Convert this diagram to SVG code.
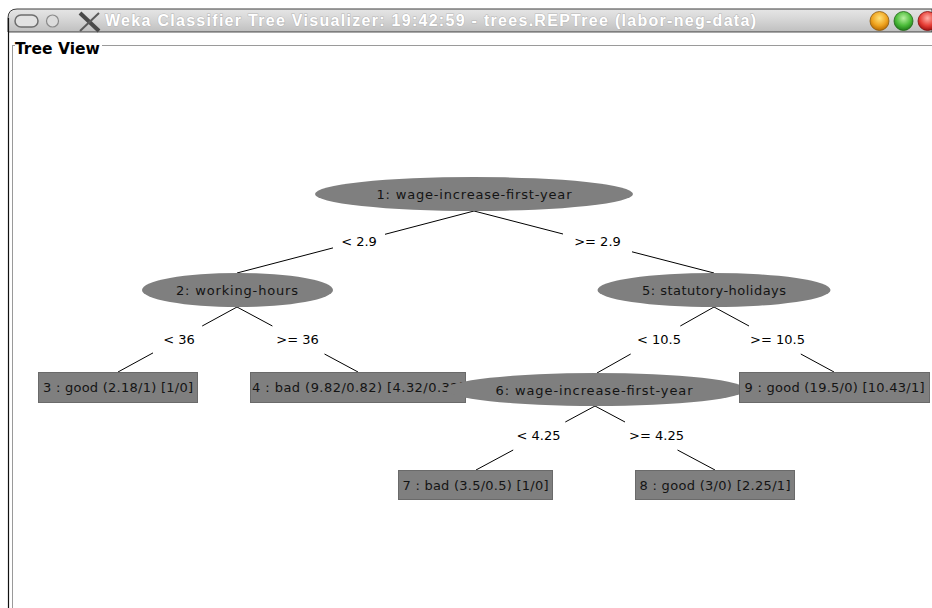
<svg xmlns="http://www.w3.org/2000/svg" width="932" height="608" viewBox="0 0 932 608">
<defs>
<linearGradient id="tbar" x1="0" y1="0" x2="0" y2="1">
<stop offset="0" stop-color="#e6e6e6"/>
<stop offset="0.5" stop-color="#d4d4d4"/>
<stop offset="1" stop-color="#bfbfbf"/>
</linearGradient>
<radialGradient id="gOr" cx="0.5" cy="0.35" r="0.65">
<stop offset="0" stop-color="#ffe27a"/>
<stop offset="0.6" stop-color="#f0a420"/>
<stop offset="1" stop-color="#b86a00"/>
</radialGradient>
<radialGradient id="gGr" cx="0.5" cy="0.35" r="0.65">
<stop offset="0" stop-color="#b8f0a0"/>
<stop offset="0.6" stop-color="#4cbc3a"/>
<stop offset="1" stop-color="#1f7a18"/>
</radialGradient>
<radialGradient id="gRd" cx="0.5" cy="0.35" r="0.65">
<stop offset="0" stop-color="#ffb0a8"/>
<stop offset="0.6" stop-color="#e84038"/>
<stop offset="1" stop-color="#a01010"/>
</radialGradient>
</defs>
<style>
.nfill{fill:#7f7f7f}
.leaf{fill:#7f7f7f;stroke:#6a6a6a;stroke-width:1}
.nt{font-family:"DejaVu Sans","Liberation Sans",sans-serif;font-size:13px;fill:#141414;text-anchor:middle}
.lbl{font-family:"DejaVu Sans","Liberation Sans",sans-serif;font-size:13px;fill:#000;text-anchor:middle}
.edge{stroke:#000;stroke-width:1;fill:none}
.frame{stroke:#9a9a9a;stroke-width:1;fill:none}
</style>
<rect x="0" y="0" width="932" height="608" fill="#ffffff"/>

<g id="window">
<path d="M8,32 V18 Q8,9 17,9 H932 V32 Z" fill="url(#tbar)" stroke="#3c3c3c" stroke-width="1"/>
<line x1="8" y1="32.5" x2="932" y2="32.5" stroke="#a8a8a8"/>
<line x1="8.5" y1="18" x2="8.5" y2="608" stroke="#111" stroke-width="1.2"/>
<rect x="15" y="15" width="23" height="12" rx="6" fill="#e2e2e2" stroke="#6e6e6e" stroke-width="1.5"/>
<circle cx="52.5" cy="21" r="6" fill="#dcdcdc" stroke="#8a8a8a" stroke-width="1.2"/>
<line x1="80" y1="13" x2="99" y2="31" stroke="#4a4a4a" stroke-width="4"/>
<line x1="99" y1="13" x2="80" y2="31" stroke="#5a5a5a" stroke-width="2"/>
<text x="105" y="26" textLength="651" font-family="Liberation Sans, Arial, sans-serif" font-size="16" font-weight="bold" fill="#ffffff" stroke="#b6b6b6" stroke-width="1" paint-order="stroke">Weka Classifier Tree Visualizer: 19:42:59 - trees.REPTree (labor-neg-data)</text>
<circle cx="879.5" cy="21" r="9.5" fill="url(#gOr)" stroke="#8a5a10" stroke-width="0.8"/>
<circle cx="903.5" cy="21" r="9.5" fill="url(#gGr)" stroke="#226618" stroke-width="0.8"/>
<circle cx="927.5" cy="21" r="9.5" fill="url(#gRd)" stroke="#801010" stroke-width="0.8"/>
<line class="frame" x1="12.5" y1="45.5" x2="12.5" y2="608"/>
<line class="frame" x1="12" y1="45.5" x2="15" y2="45.5"/>
<line class="frame" x1="102" y1="45.5" x2="932" y2="45.5"/>
<text x="15" y="54" font-family="DejaVu Sans, Liberation Sans, sans-serif" font-size="15.5" font-weight="bold" fill="#000">Tree View</text>
</g>

<g id="connectors">
<path class="edge" d="M474,211 L385,234.3 M333,247.9 L237,273"/>
<path class="edge" d="M474,211 L563,234 M632,251.8 L714,273"/>
<path class="edge" d="M237,307 L202.2,326 M153,352.9 L118,372"/>
<path class="edge" d="M237,307 L272.4,326 M324.5,354 L358,372"/>
<path class="edge" d="M714,307 L680.3,326 M630.7,354 L597,373"/>
<path class="edge" d="M714,307 L749,326 M800.8,354 L834,372"/>
<path class="edge" d="M595,406 L565.3,422 M513.2,450 L476,470"/>
<path class="edge" d="M595,406 L625,422 M677.5,450 L715,470"/>
<text class="lbl" x="359" y="246">&lt; 2.9</text>
<text class="lbl" x="597.5" y="246">&gt;= 2.9</text>
<text class="lbl" x="179" y="344">&lt; 36</text>
<text class="lbl" x="297.5" y="344">&gt;= 36</text>
<text class="lbl" x="659" y="344">&lt; 10.5</text>
<text class="lbl" x="777.5" y="344">&gt;= 10.5</text>
<text class="lbl" x="538.5" y="440">&lt; 4.25</text>
<text class="lbl" x="656.5" y="440">&gt;= 4.25</text>
</g>

<g id="node1">
<ellipse class="nfill" cx="474" cy="194" rx="159" ry="17"/>
<text class="nt" x="474" y="199" textLength="195">1: wage-increase-first-year</text>
</g>
<g id="node2">
<ellipse class="nfill" cx="237.5" cy="290" rx="95.5" ry="17"/>
<text class="nt" x="237" y="295" textLength="122">2: working-hours</text>
</g>
<g id="node5">
<ellipse class="nfill" cx="714" cy="290" rx="116.5" ry="17"/>
<text class="nt" x="714" y="295" textLength="144">5: statutory-holidays</text>
</g>
<g id="node3">
<rect class="leaf" x="38.5" y="372.5" width="159" height="30"/>
<text class="nt" x="118" y="392" textLength="150">3 : good (2.18/1) [1/0]</text>
</g>
<g id="node4">
<rect class="leaf" x="250.5" y="372.5" width="215" height="30"/>
<text class="nt" x="358" y="392" textLength="212">4 : bad (9.82/0.82) [4.32/0.32]</text>
</g>
<g id="node6">
<ellipse class="nfill" cx="596" cy="389.5" rx="150" ry="16.5"/>
<text class="nt" x="594" y="394.5" textLength="197">6: wage-increase-first-year</text>
</g>
<g id="node9">
<rect class="leaf" x="739.5" y="372.5" width="190" height="30"/>
<text class="nt" x="834.5" y="392" textLength="180">9 : good (19.5/0) [10.43/1]</text>
</g>
<g id="node7">
<rect class="leaf" x="398.5" y="470.5" width="154" height="29"/>
<text class="nt" x="475.5" y="489.5" textLength="146">7 : bad (3.5/0.5) [1/0]</text>
</g>
<g id="node8">
<rect class="leaf" x="635.5" y="470.5" width="159" height="29"/>
<text class="nt" x="715" y="489.5" textLength="151">8 : good (3/0) [2.25/1]</text>
</g>
</svg>
